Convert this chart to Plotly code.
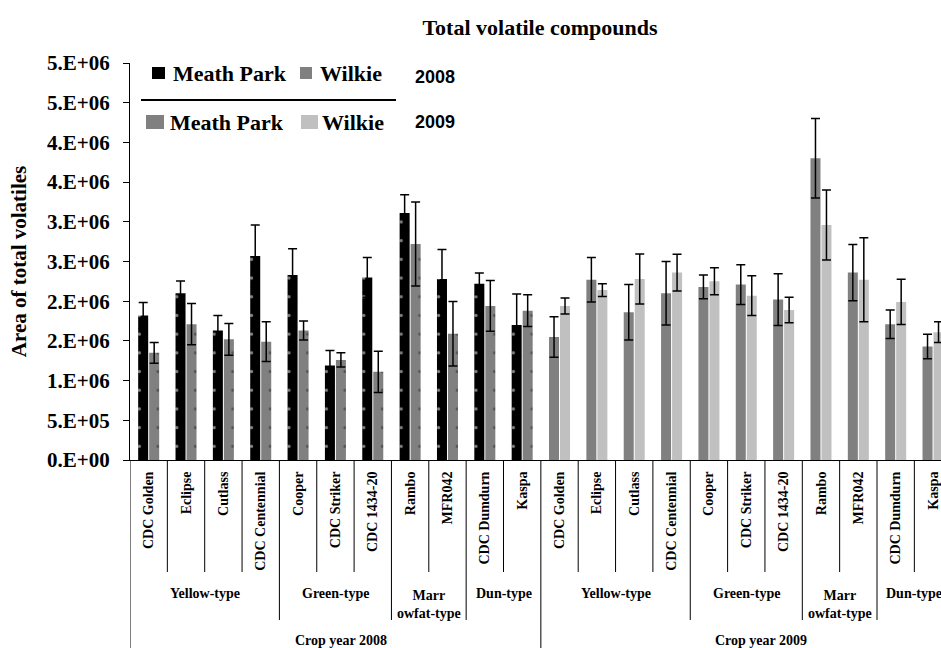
import plotly.graph_objects as go

# ---------------- data ----------------
cultivars = ["CDC Golden", "Eclipse", "Cutlass", "CDC Centennial", "Cooper",
             "CDC Striker", "CDC 1434-20", "Rambo", "MFR042", "CDC Dumdurn", "Kaspa"]
pea_types = ["Yellow-type", "Green-type", "Marr<br>owfat-type", "Dun-type"]
type_counts = [4, 3, 2, 2]
crop_years = ["Crop year 2008", "Crop year 2009"]

meath_2008 = [1.82e6, 2.10e6, 1.63e6, 2.57e6, 2.33e6, 1.19e6, 2.30e6, 3.11e6, 2.28e6, 2.22e6, 1.70e6]
meath_2008_err = [0.165e6, 0.155e6, 0.19e6, 0.39e6, 0.33e6, 0.19e6, 0.25e6, 0.23e6, 0.37e6, 0.135e6, 0.39e6]
wilkie_2008 = [1.35e6, 1.71e6, 1.52e6, 1.49e6, 1.63e6, 1.26e6, 1.11e6, 2.72e6, 1.59e6, 1.94e6, 1.88e6]
wilkie_2008_err = [0.13e6, 0.26e6, 0.20e6, 0.25e6, 0.12e6, 0.09e6, 0.26e6, 0.53e6, 0.405e6, 0.32e6, 0.20e6]
meath_2009 = [1.55e6, 2.27e6, 1.86e6, 2.10e6, 2.18e6, 2.21e6, 2.02e6, 3.80e6, 2.36e6, 1.71e6, 1.43e6]
meath_2009_err = [0.255e6, 0.28e6, 0.35e6, 0.40e6, 0.15e6, 0.25e6, 0.325e6, 0.50e6, 0.355e6, 0.18e6, 0.155e6]
wilkie_2009 = [1.94e6, 2.14e6, 2.28e6, 2.36e6, 2.25e6, 2.07e6, 1.89e6, 2.96e6, 2.27e6, 1.99e6, 1.61e6]
wilkie_2009_err = [0.10e6, 0.08e6, 0.315e6, 0.23e6, 0.17e6, 0.25e6, 0.16e6, 0.44e6, 0.53e6, 0.285e6, 0.13e6]

y_tickvals = [0, 0.5e6, 1.0e6, 1.5e6, 2.0e6, 2.5e6, 3.0e6, 3.5e6, 4.0e6, 4.5e6, 5.0e6]
y_ticktext = ["0.E+00", "5.E+05", "1.E+06", "2.E+06", "2.E+06", "3.E+06",
              "3.E+06", "4.E+06", "4.E+06", "5.E+06", "5.E+06"]

# ---------------- layout geometry ----------------
W, H = 941, 648
L, T, B = 130, 63, 188
PW, PH = W - L, H - T - B
n = len(cultivars)
x08 = list(range(n))
x09 = [i + n for i in range(n)]
CAT_PX = 37.35
x_end = -0.5 + PW / CAT_PX

def px2x(px):
    return (px - L) / PW

def py2y(py):
    return (T + PH - py) / PH

SERIF = "Liberation Serif"
SANS = "Liberation Sans"
err_style = dict(type="data", color="black", thickness=1.5, width=4.5)

fig = go.Figure()
fig.add_trace(go.Bar(
    x=x08, y=meath_2008, name="Meath Park 2008", offsetgroup="mp",
    marker=dict(color="black", line=dict(width=0),
                pattern=dict(shape=".", fgcolor="white", size=18.7, solidity=0.025)),
    error_y=dict(array=meath_2008_err, **err_style)))
fig.add_trace(go.Bar(
    x=x08, y=wilkie_2008, name="Wilkie 2008", offsetgroup="wk",
    marker=dict(color="#808080", line=dict(width=0),
                pattern=dict(shape=".", fgcolor="#2a2a2a", size=18.7, solidity=0.025)),
    error_y=dict(array=wilkie_2008_err, **err_style)))
fig.add_trace(go.Bar(
    x=x09, y=meath_2009, name="Meath Park 2009", offsetgroup="mp",
    marker=dict(color="#808080", line=dict(width=0)),
    error_y=dict(array=meath_2009_err, **err_style)))
fig.add_trace(go.Bar(
    x=x09, y=wilkie_2009, name="Wilkie 2009", offsetgroup="wk",
    marker=dict(color="#c0c0c0", line=dict(width=0)),
    error_y=dict(array=wilkie_2009_err, **err_style)))

shapes = []
annotations = []

# category separators below the x axis
group_bounds = [0]
for c in type_counts:
    group_bounds.append(group_bounds[-1] + c)
for k in range(0, 2 * n + 1):
    kk = k % n
    if kk == 0:
        yb = py2y(H)
    elif kk in group_bounds:
        yb = py2y(620)
    else:
        yb = py2y(572)
    shapes.append(dict(type="line", xref="x", yref="paper", x0=k - 0.5, x1=k - 0.5,
                       y0=0, y1=yb, line=dict(color="black", width=1)))

# type labels
for yr in range(2):
    start = yr * n
    for name, c in zip(pea_types, type_counts):
        center = start + (c - 1) / 2
        two = "<br>" in name
        annotations.append(dict(
            xref="x", yref="paper", x=center, y=py2y(604 if two else 593),
            text=name, showarrow=False, xanchor="center", yanchor="middle",
            font=dict(family=SERIF, size=14, color="black", weight="bold")))
        start += c

# crop-year labels
for yr, label in enumerate(crop_years):
    center = yr * n + (n - 1) / 2
    annotations.append(dict(
        xref="x", yref="paper", x=center + 0.15 + 0.25 * yr, y=py2y(640),
        text=label, showarrow=False, xanchor="center", yanchor="middle",
        font=dict(family=SERIF, size=14, color="black", weight="bold")))

# custom legend
leg_font = dict(family=SERIF, size=22, color="black", weight="bold")
legend_rows = [
    (73, [(152, 165, 67, 79, "black", 171, "Meath Park"),
          (300, 312, 67, 79, "#808080", 318, "Wilkie")], "2008", 77),
    (122, [(146, 164, 115, 129, "#808080", 168, "Meath Park"),
           (301, 318, 115, 129, "#c0c0c0", 320, "Wilkie")], "2009", 122),
]
for yc, items, yr_label, yr_y in legend_rows:
    for x0, x1, y0, y1, col, tx, txt in items:
        shapes.append(dict(type="rect", xref="paper", yref="paper",
                           x0=px2x(x0), x1=px2x(x1), y0=py2y(y1), y1=py2y(y0),
                           fillcolor=col, line=dict(width=0)))
        annotations.append(dict(xref="paper", yref="paper", x=px2x(tx), y=py2y(yc),
                                text=txt, showarrow=False, xanchor="left", yanchor="middle",
                                font=leg_font))
    annotations.append(dict(xref="paper", yref="paper", x=px2x(413), y=py2y(yr_y),
                            text=yr_label, showarrow=False, xanchor="left", yanchor="middle",
                            font=dict(family=SANS, size=18, color="black", weight="bold")))
shapes.append(dict(type="line", xref="paper", yref="paper", x0=px2x(141), x1=px2x(396),
                   y0=py2y(100), y1=py2y(100), line=dict(color="black", width=2)))

fig.update_layout(
    width=W, height=H,
    margin=dict(l=L, r=0, t=T, b=B, pad=0),
    paper_bgcolor="white", plot_bgcolor="white",
    barmode="group", bargap=0.411, bargroupgap=0.09,
    showlegend=False,
    title=dict(text="Total volatile compounds", x=540 / W, xanchor="center",
               y=1 - 27 / H, yanchor="middle",
               font=dict(family=SERIF, size=22, color="black", weight="bold")),
    xaxis=dict(range=[-0.5, x_end], tickvals=x08 + x09, ticktext=cultivars + cultivars,
               tickangle=-90, ticks="", showline=True, linecolor="black", linewidth=1,
               ticklabelstandoff=5,
               showgrid=False, zeroline=False,
               tickfont=dict(family=SERIF, size=14, color="black", weight="bold")),
    yaxis=dict(range=[0, 5e6], tickvals=y_tickvals, ticktext=y_ticktext,
               ticks="outside", ticklen=6, tickcolor="black", tickwidth=1,
               ticklabelstandoff=9,
               showline=True, linecolor="black", linewidth=1,
               showgrid=False, zeroline=False,
               tickfont=dict(family=SERIF, size=21, color="black", weight="bold"),
               title=dict(text="Area of total volatiles", standoff=14,
                          font=dict(family=SERIF, size=21, color="black", weight="bold"))),
    shapes=shapes, annotations=annotations,
)

fig.write_html(
    "out.html",
    config={"displayModeBar": False},
    post_script="document.body.style.margin='0';document.body.style.overflow='hidden';",
)
